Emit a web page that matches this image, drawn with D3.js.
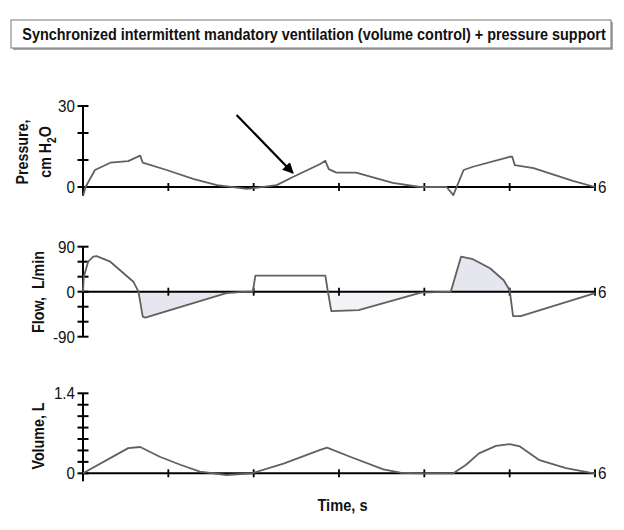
<!DOCTYPE html>
<html>
<head>
<meta charset="utf-8">
<script src="https://cdn.jsdelivr.net/npm/d3@7"></script>
<style>
  body { margin: 0; background: #fff; }
  svg text { font-family: "Liberation Sans", Arial, sans-serif; fill: #111; }
  .lab { font-weight: bold; font-size: 17px; }
  .tick-lab { font-size: 16.5px; }
</style>
</head>
<body>
<svg id="chart" width="624" height="530"></svg>
<script>
const title = "Synchronized intermittent mandatory ventilation (volume control) + pressure support";

// pressure, cm H2O
const pressureT = [0, 0.03, 0.14, 0.32, 0.53, 0.67, 0.7, 0.98, 1.29, 1.57, 1.92, 2.0, 2.27, 2.46, 2.78, 2.84, 2.88, 2.97, 3.2, 3.63, 3.95, 4.26, 4.34, 4.46, 4.57, 5.0, 5.03, 5.06, 5.28, 5.74, 6.0];
const pressureV = [-3.3, 0, 6.3, 9, 9.6, 11.6, 9, 6.3, 3, 0.7, -0.7, -0.4, 0.7, 3.7, 8.5, 9.7, 6.6, 5.3, 5.3, 1.5, 0, 0, -3, 6.3, 7.5, 11.2, 11.2, 8.1, 7, 2.3, 0];

// flow, L/min
const flowT = [0, 0.01, 0.06, 0.12, 0.16, 0.32, 0.59, 0.65, 0.7, 0.73, 1.68, 1.92, 1.99, 2.02, 2.84, 2.87, 2.91, 3.23, 3.96, 4.31, 4.43, 4.57, 4.77, 4.93, 5.0, 5.04, 5.13, 6.0];
const flowV = [0, 30, 60, 70, 71, 60, 20, 0, -50, -52, -3, 0, 0, 32, 32, 0, -39, -37, -2, 0, 70, 65, 47, 23, 3, -49, -49, -3];

// volume, L
const volumeT = [0, 0.53, 0.67, 0.9, 1.14, 1.37, 1.68, 1.98, 2.35, 2.78, 2.86, 3.13, 3.52, 3.72, 3.97, 4.34, 4.49, 4.64, 4.84, 5.0, 5.12, 5.35, 5.66, 5.94, 6.0];
const volumeV = [0, 0.44, 0.46, 0.29, 0.15, 0.03, -0.03, 0, 0.17, 0.41, 0.45, 0.29, 0.07, 0.01, 0, 0, 0.15, 0.35, 0.48, 0.51, 0.47, 0.23, 0.09, 0.01, 0];

// shaded flow regions [start, end] in s
const shadeSpans = [[0.65, 1.92], [2.87, 3.96], [4.31, 5.0]];
const shadeColors = ["#e6e6ef", "#f3f3f7", "#e6e6ef"];

const timeTicks = [0, 1, 2, 3, 4, 5, 6];

const svg = d3.select("#chart");

// title box with a soft shadow
svg.append("rect").attr("x", 13).attr("y", 22).attr("width", 600).attr("height", 28).attr("fill", "#aaa");
svg.append("rect").attr("x", 11).attr("y", 20).attr("width", 600).attr("height", 28)
  .attr("fill", "#fff").attr("stroke", "#777").attr("stroke-width", 1);
const titleText = svg.append("text").attr("class", "lab").attr("text-anchor", "middle").text(title);
// squeeze the title to the width of the box, like a condensed face
const tw = titleText.node().getComputedTextLength();
titleText.attr("transform", "translate(314,40) scale(" + (584 / tw) + ",1)");

const x = d3.scaleLinear().domain([0, 6]).range([83, 595]);

const panels = [
  { t: pressureT, v: pressureV, y: d3.scaleLinear().domain([0, 30]).range([187, 106]),
    ticks: [0, 10, 20, 30], labels: [0, 30], bottom: -3.3, fmt: d => d },
  { t: flowT, v: flowV, y: d3.scaleLinear().domain([-90, 90]).range([336.7, 246.7]),
    ticks: [-90, -60, -30, 0, 30, 60, 90], labels: [-90, 0, 90], bottom: -90, fmt: d => d },
  { t: volumeT, v: volumeV, y: d3.scaleLinear().domain([0, 1.4]).range([473.3, 393.3]),
    ticks: d3.range(0, 1.41, 0.2), labels: [0, 1.4], bottom: -0.14, fmt: d => d === 0 ? "0" : d.toFixed(1) }
];

function tickText(g, txt, tx, ty, anchor) {
  g.append("text").attr("class", "tick-lab")
    .attr("transform", "translate(" + tx + "," + ty + ") scale(0.92,1)")
    .attr("text-anchor", anchor).text(txt);
}

panels.forEach(function(p, pi) {
  const g = svg.append("g");
  const y = p.y;
  const pts = p.t.map((t, i) => [t, p.v[i]]);

  // shading under flow
  if (pi === 1) {
    shadeSpans.forEach(function(s, si) {
      const seg = pts.filter(d => d[0] >= s[0] - 1e-6 && d[0] <= s[1] + 1e-6);
      g.append("path")
        .datum(seg)
        .attr("d", d3.area().x(d => x(d[0])).y0(y(0)).y1(d => y(d[1])))
        .attr("fill", shadeColors[si]);
    });
  }

  // y axis
  const y0 = y(0);
  g.append("line").attr("x1", x(0)).attr("x2", x(0))
    .attr("y1", y.range()[1]).attr("y2", y(p.bottom))
    .attr("stroke", "#000").attr("stroke-width", 2);
  g.selectAll(".yt").data(p.ticks).enter().append("line")
    .attr("x1", x(0) - 5.5).attr("x2", x(0) + 5.5)
    .attr("y1", d => y(d)).attr("y2", d => y(d))
    .attr("stroke", "#000").attr("stroke-width", 2);
  p.labels.forEach(function(d) {
    tickText(g, p.fmt(d), x(0) - 8, y(d) + 6, "end");
  });

  // x axis
  g.append("line").attr("x1", x(0)).attr("x2", x(6))
    .attr("y1", y0).attr("y2", y0)
    .attr("stroke", "#000").attr("stroke-width", 2);
  g.selectAll(".xt").data(timeTicks.slice(1)).enter().append("line")
    .attr("x1", d => x(d)).attr("x2", d => x(d))
    .attr("y1", y0 - 4).attr("y2", y0 + 4)
    .attr("stroke", "#000").attr("stroke-width", 1.8);
  tickText(g, "6", x(6) + 3, y0 + 6, "start");

  // trace
  g.append("path")
    .datum(pts)
    .attr("d", d3.line().x(d => x(d[0])).y(d => y(d[1])))
    .attr("fill", "none").attr("stroke", "#606060").attr("stroke-width", 1.8)
    .attr("stroke-linejoin", "round");
});

// rotated axis titles, condensed by scaling along the text direction
function vlabel(build, bx, cy) {
  const t = svg.append("text").attr("class", "lab")
    .attr("transform", "translate(" + bx + "," + cy + ") rotate(-90) scale(0.84,1)")
    .attr("text-anchor", "middle");
  build(t);
}
vlabel(t => t.text("Pressure,"), 28, 152);
vlabel(function(t) {
  t.append("tspan").text("cm H");
  t.append("tspan").attr("dy", 5).style("font-size", "12px").text("2");
  t.append("tspan").attr("dy", -5).text("O");
}, 51, 152);
vlabel(t => t.text("Flow,  L/min").style("white-space", "pre"), 44, 292);
vlabel(t => t.text("Volume, L"), 44, 436);

// x label
svg.append("text").attr("class", "lab")
  .attr("transform", "translate(342.5,511) scale(0.86,1)")
  .attr("text-anchor", "middle").text("Time, s");

// arrow
svg.append("defs").append("marker").attr("id", "ah")
  .attr("viewBox", "0 0 10 10").attr("refX", 9).attr("refY", 5)
  .attr("markerWidth", 5).attr("markerHeight", 5).attr("orient", "auto")
  .append("path").attr("d", "M0,0L10,5L0,10z").attr("fill", "#000");
svg.append("line").attr("x1", x(1.8)).attr("y1", 115).attr("x2", x(2.46)).attr("y2", 173)
  .attr("stroke", "#000").attr("stroke-width", 2.2).attr("marker-end", "url(#ah)");
</script>
</body>
</html>
